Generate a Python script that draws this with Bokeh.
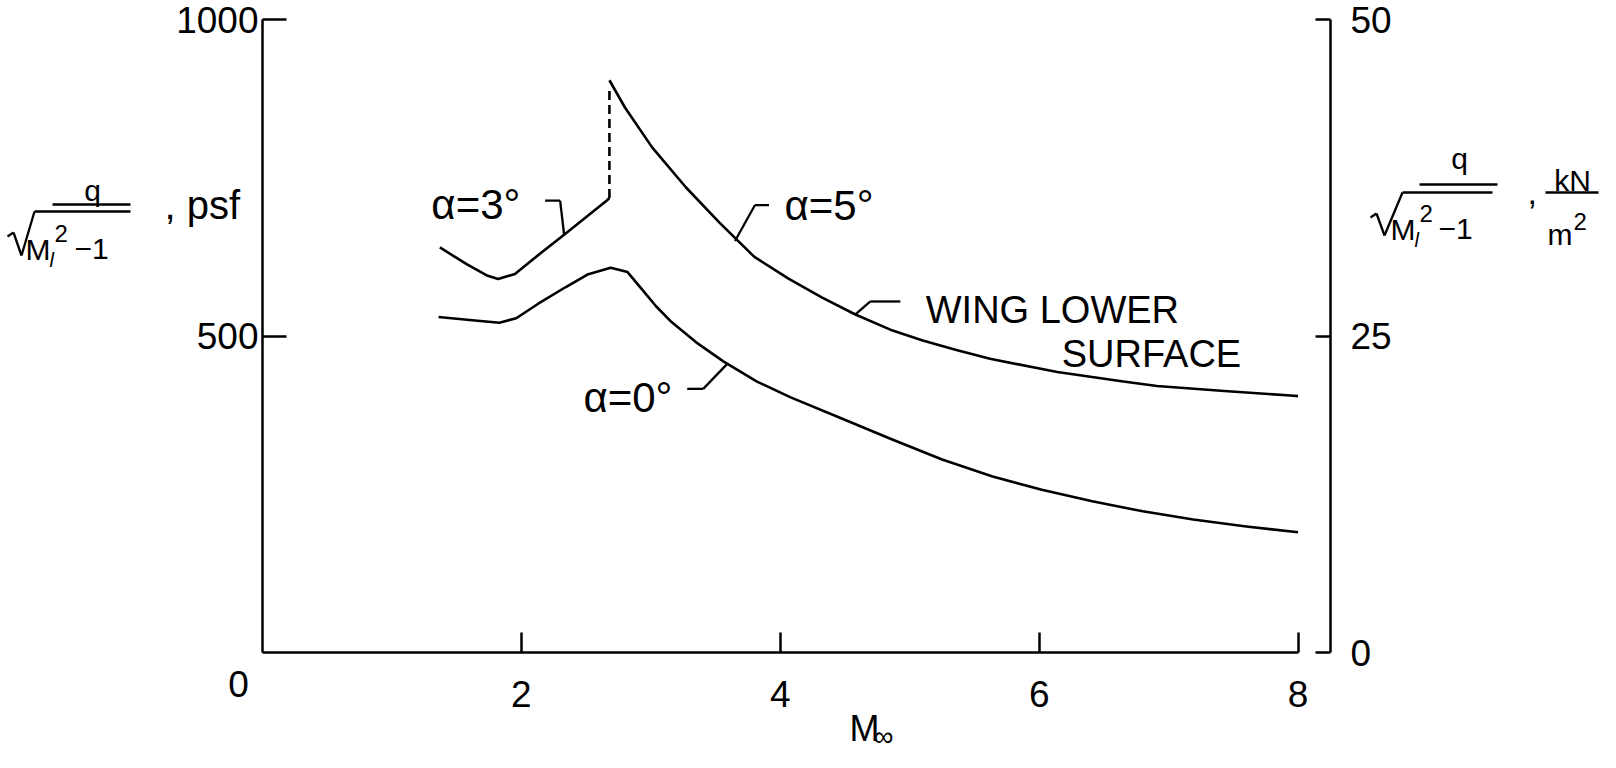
from bokeh.plotting import figure
from bokeh.models import Range1d, LinearAxis, FixedTicker, Label, Arrow
from bokeh.embed import file_html
from bokeh.resources import INLINE

# ---------------- data ----------------
mach_a0 = [1.36, 1.62, 1.83, 1.96, 2.13, 2.34, 2.51, 2.69, 2.82, 2.93, 3.04, 3.16,
           3.35, 3.56, 3.82, 4.08, 4.47, 4.86, 5.25, 5.64, 6.02, 6.41, 6.80, 7.19,
           7.60, 8.0]
q_a0 = [530, 525, 521, 528, 551, 577, 597, 608, 601, 574, 547, 522,
        490, 460, 428, 403, 370, 337, 305, 278, 257, 239, 223, 210, 199, 190]

mach_a3 = [1.37, 1.58, 1.74, 1.82, 1.95, 2.10, 2.33, 2.66, 2.68]
q_a3 = [640, 613, 595, 590, 598, 623, 660, 714, 718]

mach_a5 = [2.68, 2.80, 3.01, 3.27, 3.53, 3.80, 4.06, 4.32, 4.58, 4.85, 5.10, 5.36,
           5.62, 6.14, 6.65, 6.91, 7.43, 7.94, 8.0]
q_a5 = [904, 861, 798, 735, 679, 625, 591, 561, 534, 510, 493, 478,
        464, 443, 428, 421, 413, 406, 405]

mach_jump = [2.68, 2.68]
q_jump = [718, 888]

x_ticks = [2, 4, 6, 8]
psf_ticks = [500, 1000]
kn_ticks = [0, 25, 50]

# ---------------- layout (page pixels) ----------------
FONT = "Liberation Sans"
W, H = 1600, 752            # canvas, placed at page (8, 8)
X0, Y0 = 270, 660           # page pixel of (M=0, q=0)
PX = 129.45                 # px per Mach unit
PY = 0.633                  # px per psf
X_RIGHT_AXIS = 1338         # page x of the kN/m^2 axis

xs = (8 - X0) / PX
xe = (8 + W - X0) / PX
ye = (Y0 - 8) / PY
ys = (Y0 - 8 - H) / PY

p = figure(width=W, height=H, x_range=Range1d(xs, xe), y_range=Range1d(ys, ye),
           output_backend="svg", toolbar_location=None, min_border=0,
           x_axis_type=None, y_axis_type=None)
p.outline_line_color = None
p.background_fill_color = "white"
p.border_fill_color = "white"


def style_axis(ax, tin, standoff):
    ax.axis_line_width = 2.5
    ax.axis_line_color = "black"
    ax.major_tick_line_width = 2.5
    ax.major_tick_line_color = "black"
    ax.major_tick_in = tin
    ax.major_tick_out = 0
    ax.minor_tick_line_color = None
    ax.major_label_text_font = FONT
    ax.major_label_text_font_size = "37px"
    ax.major_label_text_color = "black"
    ax.major_label_standoff = standoff


xa = LinearAxis(ticker=FixedTicker(ticks=x_ticks), bounds=(0, 8), fixed_location=0)
style_axis(xa, 20, 28)
p.add_layout(xa, "below")

ya = LinearAxis(ticker=FixedTicker(ticks=psf_ticks), bounds=(0, 1000), fixed_location=0)
style_axis(ya, 24, 4)
p.add_layout(ya, "left")

p.extra_y_ranges = {"kn": Range1d(ys / 20.0, ye / 20.0)}
ra = LinearAxis(y_range_name="kn", ticker=FixedTicker(ticks=kn_ticks), bounds=(0, 50),
                fixed_location=(X_RIGHT_AXIS - X0) / PX)
style_axis(ra, 15, 20)
p.add_layout(ra, "right")

# ---------------- curves ----------------
LW = 2.6
p.line(mach_a0, q_a0, line_color="black", line_width=LW, line_join="round")
p.line(mach_a3, q_a3, line_color="black", line_width=LW, line_join="round")
p.line(mach_a5, q_a5, line_color="black", line_width=LW, line_join="round")
p.line(mach_jump, q_jump, line_color="black", line_width=2.6, line_dash="9 5")


# ---------------- annotation helpers ----------------
def rd(rx, ry):
    """reference pixel inside the plot -> data (undoes the scan's slight tilt)"""
    a, b, c, d = 129.4, 0.013, 1.75, -0.626
    u, v = rx - 267, ry - 654
    det = a * d - b * c
    return (u * d - b * v) / det, (a * v - c * u) / det


def pg(rx, ry):
    """page pixel -> data"""
    return (rx - X0) / PX, (Y0 - ry) / PY


def text(t, rx, ry, size, align="left", font=FONT, style="normal", tilt=False):
    ry = ry - 0.21 * size           # anchor sits at the bottom of the descent
    x, y = rd(rx, ry) if tilt else pg(rx, ry)
    p.add_layout(Label(x=x, y=y, text=t, text_font=font,
                       text_font_size=f"{size}px", text_align=align,
                       text_baseline="alphabetic", text_color="black",
                       text_font_style=style))


def poly(pts, w=2.3):
    dp = [pg(x, y) for x, y in pts]
    for (a, b), (c, d) in zip(dp[:-1], dp[1:]):
        p.add_layout(Arrow(x_start=a, y_start=b, x_end=c, y_end=d, start=None,
                           end=None, line_color="black", line_width=w))


def leader(m, q, offs, w=2.3):
    pts = [(m, q)] + [(m + ox / PX, q + oy / PY) for ox, oy in offs]
    for (a, b), (c, d) in zip(pts[:-1], pts[1:]):
        p.add_layout(Arrow(x_start=a, y_start=b, x_end=c, y_end=d, start=None,
                           end=None, line_color="black", line_width=w))


# curve labels
text("α=3°", 445, 222, 42, tilt=True)
leader(2.33, 660, [(-4, 34), (-19, 34)])
text("α=5°", 798, 228, 42, tilt=True)
leader(3.65, 650, [(20, 36), (34, 36)])
text("α=0°", 593, 415, 42, tilt=True)
leader(3.59, 456, [(-24, -25), (-40, -25)])
text("WING LOWER", 937, 332, 38, tilt=True)
text("SURFACE", 1072, 378, 38, tilt=True)
leader(4.58, 534, [(15, 13), (45, 13)])

# origin label
text("0", 246, 699, 37, align="center")

# x-axis title  M_inf
text("M", 857, 744, 36)
text("∞", 881, 750, 28)

# left axis title:  q / sqrt(M_l^2 - 1), psf
text("q", 100, 204, 30, align="center")
poly([(60, 212), (138, 212)])
poly([(15, 244), (21, 240), (29, 263), (42, 219), (138, 219)])
text("M", 33, 263, 30)
text("l", 57, 272, 20, style="italic")
text("2", 62, 246, 24)
text("−1", 82, 263, 30)
text(", psf", 172, 221, 40)

# right axis title:  q / sqrt(M_l^2 - 1), kN/m^2
text("q", 1467, 172, 30, align="center")
poly([(1427, 192), (1505, 192)])
poly([(1378, 225), (1384, 221), (1392, 243), (1410, 200), (1500, 200)])
text("M", 1398, 243, 30)
text("l", 1422, 252, 20, style="italic")
text("2", 1427, 226, 24)
text("−1", 1446, 243, 30)
text(",", 1535, 207, 34)
text("kN", 1580, 194, 30, align="center")
poly([(1553, 200), (1606, 200)])
text("m", 1555, 248, 30)
text("2", 1581, 234, 24)

open("out.html", "w").write(file_html(p, INLINE))
